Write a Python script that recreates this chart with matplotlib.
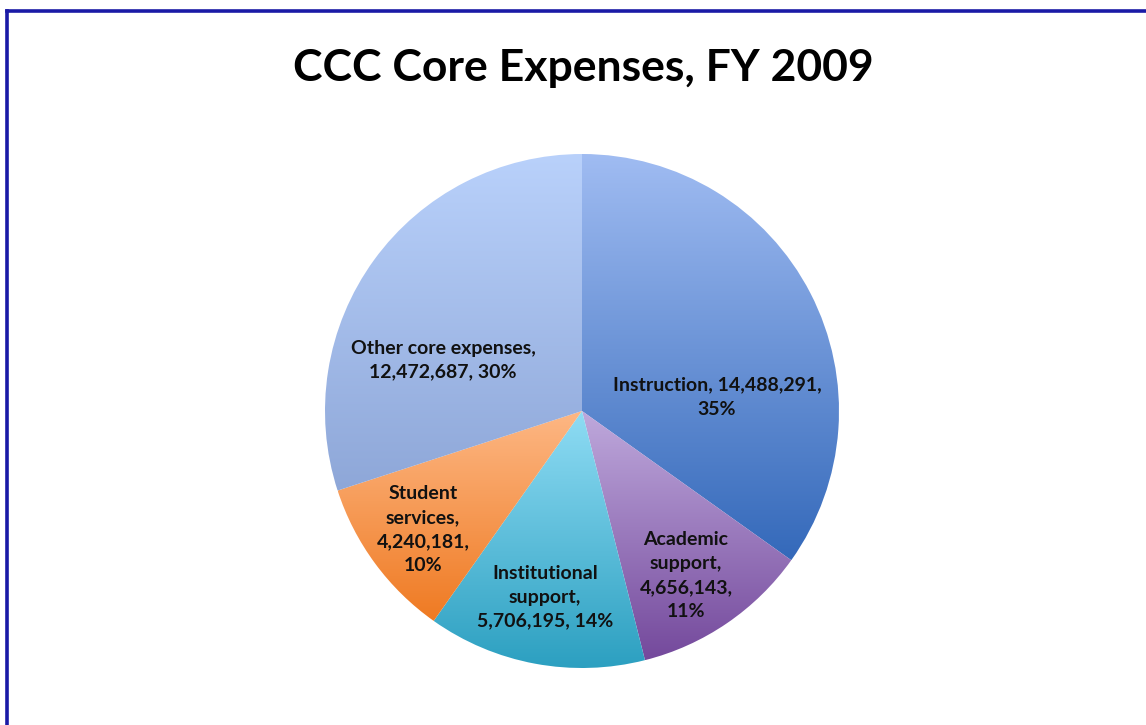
import numpy as np
import matplotlib
matplotlib.use("Agg")
import matplotlib.pyplot as plt
from matplotlib.colors import LinearSegmentedColormap
from matplotlib.lines import Line2D

# Core expense categories, FY 2009
categories = ["Instruction", "Academic support", "Institutional support",
              "Student services", "Other core expenses"]
values = [14488291, 4656143, 5706195, 4240181, 12472687]
percents = [35, 11, 14, 10, 30]
label_texts = [
    "Instruction, 14,488,291,\n35%",
    "Academic\nsupport,\n4,656,143,\n11%",
    "Institutional\nsupport,\n5,706,195, 14%",
    "Student\nservices,\n4,240,181,\n10%",
    "Other core expenses,\n12,472,687, 30%",
]

# gradient (top colour, bottom colour) for each wedge
gradients = [
    ("#a0bcf2", "#3469ba"),
    ("#bfa9dc", "#74499c"),
    ("#8fdcf4", "#2b9fc0"),
    ("#fdb784", "#ef7a22"),
    ("#b9d1fb", "#8ea7d8"),
]
# label anchors in pie units (radius = 1)
label_xy = [(0.525, 0.054), (0.405, -0.642), (-0.144, -0.724),
            (-0.619, -0.463), (-0.541, 0.198)]

W, H = 1146, 725
fig = plt.figure(figsize=(W / 100, H / 100), dpi=100)
fig.patch.set_facecolor("white")

cx, cy, R = 582, 411, 257
ax = fig.add_axes([(cx - R) / W, (H - cy - R) / H, 2 * R / W, 2 * R / H])
ax.set_axis_off()

wedges, _ = ax.pie(values, startangle=90, counterclock=False, radius=1,
                   wedgeprops=dict(linewidth=0))

for w, (top, bot) in zip(wedges, gradients):
    w.set_facecolor("none")
    verts = w.get_path().vertices
    x0, x1 = verts[:, 0].min(), verts[:, 0].max()
    y0, y1 = verts[:, 1].min(), verts[:, 1].max()
    cmap = LinearSegmentedColormap.from_list("g", [bot, top])
    grad = np.linspace(0, 1, 256).reshape(-1, 1)
    im = ax.imshow(grad, cmap=cmap, origin="lower", aspect="auto",
                   extent=(x0, x1, y0, y1), interpolation="bilinear", zorder=1)
    im.set_clip_path(w)

ax.set_xlim(-1, 1)
ax.set_ylim(-1, 1)
ax.set_aspect("equal")

for (lx, ly), txt in zip(label_xy, label_texts):
    ax.text(lx, ly, txt, ha="center", va="center", fontsize=14,
            fontweight="bold", family="Lato", color="#111111",
            linespacing=1.5, zorder=3)

fig.text(583 / W, 1 - 68 / H, "CCC Core Expenses, FY 2009", ha="center",
         va="center", fontsize=32, fontweight="bold", family="Lato",
         color="black")

# frame around the chart area
border = "#1a1aa6"
fig.add_artist(Line2D([6.5 / W, 6.5 / W], [0, 1 - 10.5 / H],
                      transform=fig.transFigure, color=border, lw=2.6))
fig.add_artist(Line2D([6.5 / W, 1], [1 - 11 / H, 1 - 11 / H],
                      transform=fig.transFigure, color=border, lw=2.6))

fig.savefig("out.png", dpi=100)
